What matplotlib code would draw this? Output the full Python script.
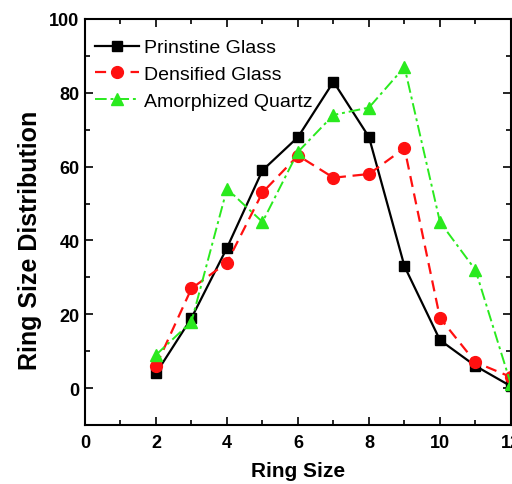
import matplotlib
matplotlib.use('Agg')
import matplotlib.pyplot as plt
from matplotlib.ticker import MultipleLocator

# ring size distribution for three silica structures
ring_size = [2, 3, 4, 5, 6, 7, 8, 9, 10, 11, 12]
pristine = [4, 19, 38, 59, 68, 83, 68, 33, 13, 6, 0.5]
densified = [6, 27, 34, 53, 63, 57, 58, 65, 19, 7, 3]
amorphized = [9, 18, 54, 45, 64, 74, 76, 87, 45, 32, 1]

plt.rcParams['font.family'] = ['Liberation Sans', 'DejaVu Sans']

fig = plt.figure(figsize=(5.12, 4.85), dpi=100)
ax = fig.add_axes([0.166, 0.1216, 0.832, 0.8372])

ax.plot(ring_size, pristine, color='black', lw=1.6, marker='s', ms=7,
        label='Prinstine Glass', clip_on=False)
ax.plot(ring_size, densified, color='#ff1010', lw=1.6, ls=(0, (5, 3)), marker='o', ms=8.5,
        label='Densified Glass', clip_on=False)
ax.plot(ring_size, amorphized, color='#2aea1e', lw=1.4, ls=(0, (6, 2, 1.5, 2)), marker='^', ms=9,
        label='Amorphized Quartz', clip_on=False)

ax.set_xlim(0, 12)
ax.set_ylim(-10, 100)
ax.xaxis.set_major_locator(MultipleLocator(2))
ax.xaxis.set_minor_locator(MultipleLocator(1))
ax.yaxis.set_major_locator(MultipleLocator(20))
ax.yaxis.set_minor_locator(MultipleLocator(10))
ax.tick_params(which='both', direction='in', top=True, right=True, width=1.2)
ax.tick_params(which='major', length=6, labelsize=13, pad=4)
ax.tick_params(axis='x', which='major', pad=6.5)
ax.tick_params(which='minor', length=3.5)
for lab in ax.get_xticklabels() + ax.get_yticklabels():
    lab.set_fontweight('bold')
for sp in ax.spines.values():
    sp.set_linewidth(1.5)

ax.set_xlabel('Ring Size', fontsize=15, fontweight='bold')
ax.xaxis.set_label_coords(0.5, -0.088)
ax.set_ylabel('Ring Size Distribution', fontsize=18, fontweight='bold')
ax.yaxis.set_label_coords(-0.101, 0.458)

ax.legend(loc='upper left', frameon=False, fontsize=14, handlelength=2.3,
          handletextpad=0.25, labelspacing=0.47, borderaxespad=0.1,
          bbox_to_anchor=(0.0, 0.975))

fig.savefig('out.png', dpi=100)
